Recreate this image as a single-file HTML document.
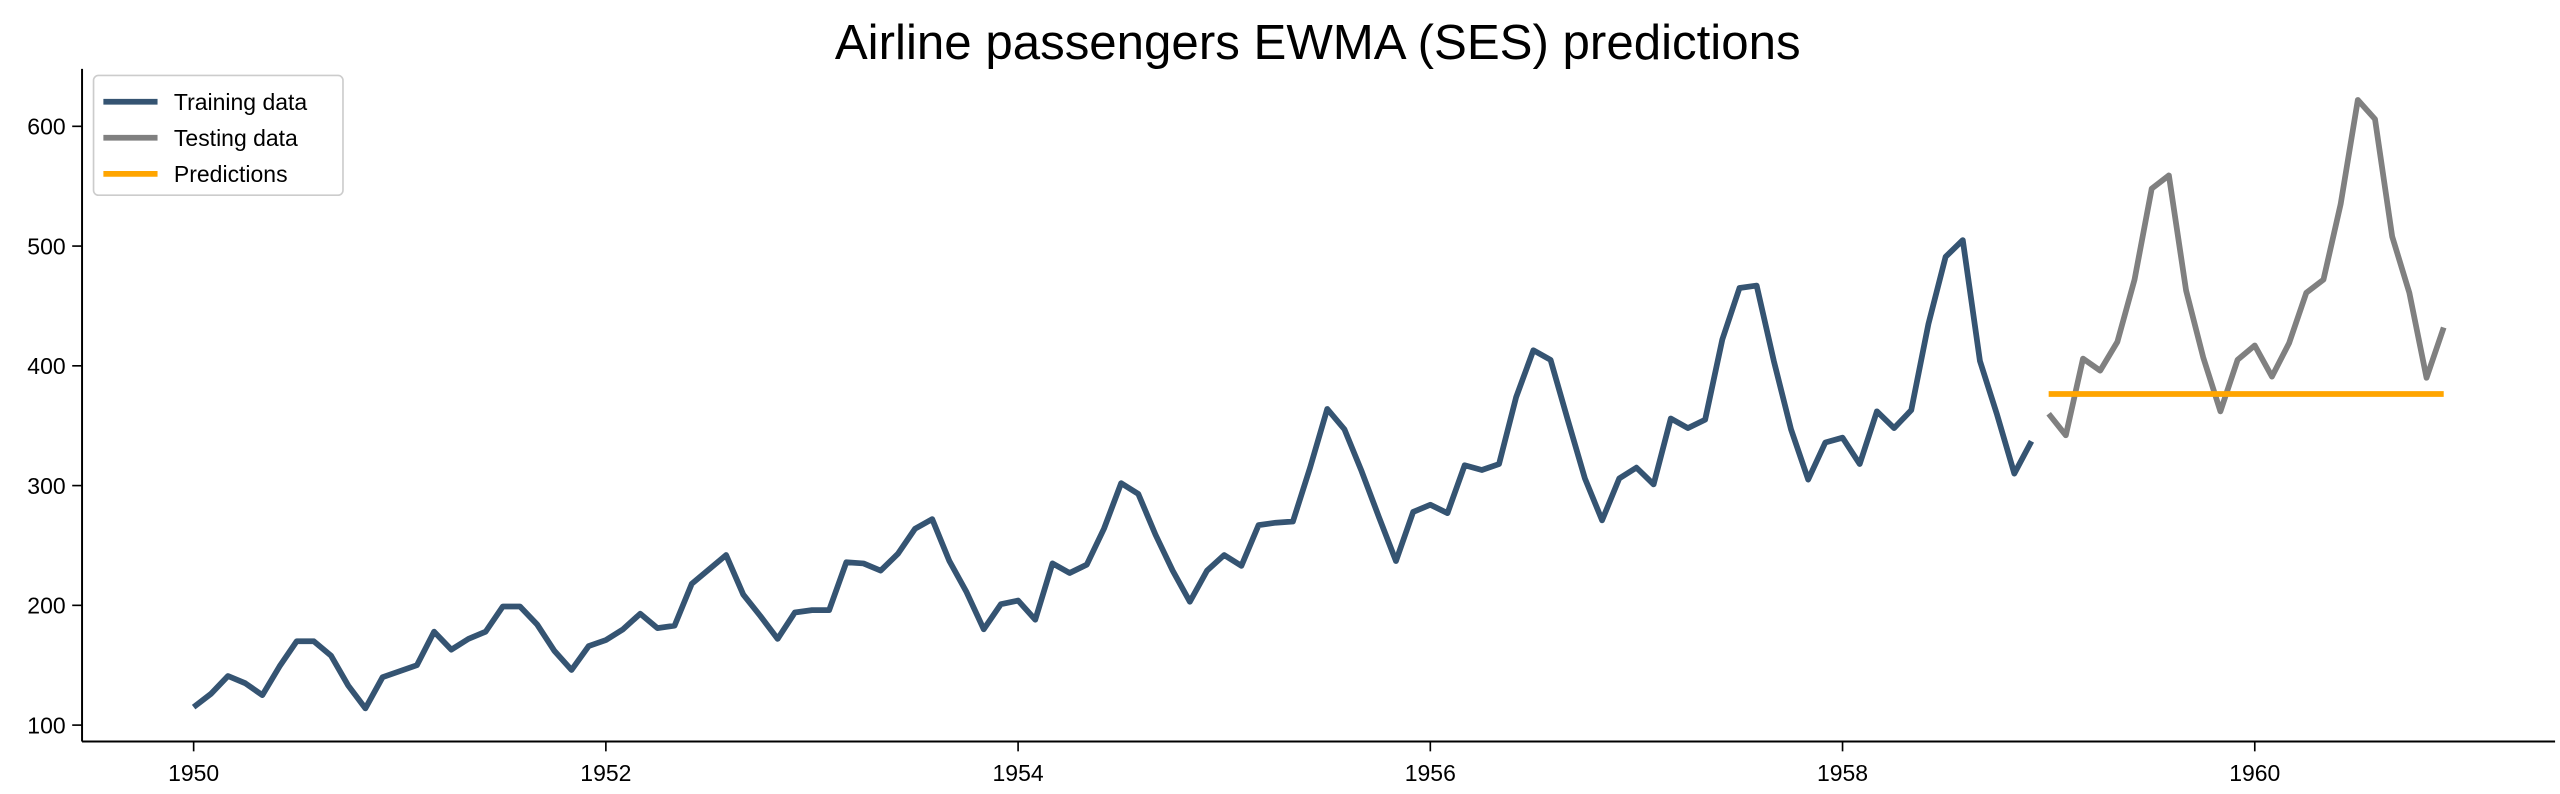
<!DOCTYPE html>
<html><head><meta charset="utf-8"><style>
html,body{margin:0;padding:0;background:#fff;overflow:hidden;}
svg{display:block;font-family:"Liberation Sans","DejaVu Sans",sans-serif;}
</style></head><body>
<svg id="chart" width="2560" height="794" viewBox="0 0 1560 484" preserveAspectRatio="none">
<text x="803" y="36" font-size="30" text-anchor="middle" fill="#000">Airline passengers EWMA (SES) predictions</text>
<g id="axes"></g>
<g id="series"></g>
<g>
<rect x="57" y="46" width="152" height="73" rx="3" fill="#fff" stroke="#ccc" stroke-width="1"/>
<line x1="63" y1="62" x2="96" y2="62" stroke="#355472" stroke-width="3.5"/>
<text x="106" y="67" font-size="14">Training data</text>
<line x1="63" y1="84" x2="96" y2="84" stroke="#808080" stroke-width="3.5"/>
<text x="106" y="89" font-size="14">Testing data</text>
<line x1="63" y1="106" x2="96" y2="106" stroke="#FFA500" stroke-width="3.5"/>
<text x="106" y="111" font-size="14">Predictions</text>
</g>
</svg>
<script>
const train = [115,126,141,135,125,149,170,170,158,133,114,140,
145,150,178,163,172,178,199,199,184,162,146,166,
171,180,193,181,183,218,230,242,209,191,172,194,
196,196,236,235,229,243,264,272,237,211,180,201,
204,188,235,227,234,264,302,293,259,229,203,229,
242,233,267,269,270,315,364,347,312,274,237,278,
284,277,317,313,318,374,413,405,355,306,271,306,
315,301,356,348,355,422,465,467,404,347,305,336,
340,318,362,348,363,435,491,505,404,359,310,337];
const test = [360,342,406,396,420,472,548,559,463,407,362,405,
417,391,419,461,472,535,622,606,508,461,390,432];
const predValue = 376.5;
const startYear = 1950;
const xTicks = [1950,1952,1954,1956,1958,1960];
const yTicks = [100,200,300,400,500,600];

const NS="http://www.w3.org/2000/svg";
const X = t => 118 + (t - 1950) * 125.6;
const Y = v => 442 - (v - 100) * 0.73;
const ax = document.getElementById('axes');
const se = document.getElementById('series');
function mk(tag, attrs, parent){const e=document.createElementNS(NS,tag);for(const k in attrs)e.setAttribute(k,attrs[k]);parent.appendChild(e);return e;}
const l1=mk('line',{x1:50,y1:42,x2:50,y2:452,stroke:'#000','stroke-width':1.2},ax);


const l2=mk('line',{x1:50,y1:452,x2:1557,y2:452,stroke:'#000','stroke-width':1.2},ax);


xTicks.forEach(t=>{
  mk('line',{x1:X(t),y1:452,x2:X(t),y2:458,stroke:'#000'},ax);
  const tx=mk('text',{x:X(t),y:476,'font-size':14,'text-anchor':'middle'},ax);
  tx.textContent=t;
  
  
});
yTicks.forEach(v=>{
  mk('line',{x1:44,y1:Y(v),x2:50,y2:Y(v),stroke:'#000'},ax);
  const tx=mk('text',{x:40,y:Y(v)+5,'font-size':14,'text-anchor':'end'},ax);
  tx.textContent=v;
  
  
});
const trPts=train.map((v,i)=>X(startYear+i/12)+','+Y(v)).join(' ');
const p1=mk('polyline',{points:trPts,fill:'none',stroke:'#355472','stroke-width':3.5,'stroke-linejoin':'round'},se);


const t0=startYear+train.length/12;
const tePts=test.map((v,i)=>X(t0+i/12)+','+Y(v)).join(' ');
const p2=mk('polyline',{points:tePts,fill:'none',stroke:'#808080','stroke-width':3.5,'stroke-linejoin':'round'},se);


const p3=mk('line',{x1:X(t0),y1:Y(predValue),x2:X(t0+(test.length-1)/12),y2:Y(predValue),stroke:'#FFA500','stroke-width':3.5},se);


</script>
</body></html>
